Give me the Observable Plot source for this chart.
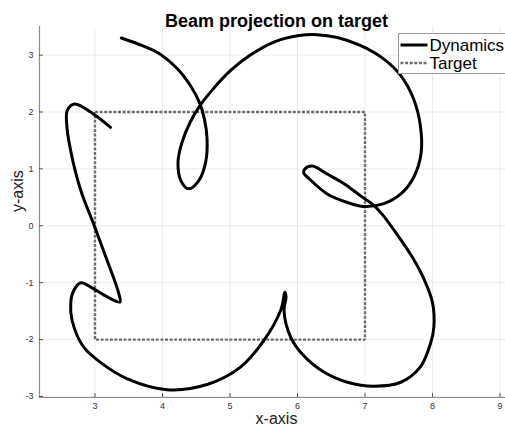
<!DOCTYPE html>
<html>
<head>
<meta charset="utf-8">
<script src="https://cdn.jsdelivr.net/npm/d3@7"></script>
<script src="https://cdn.jsdelivr.net/npm/@observablehq/plot@0.6"></script>
<style>
  html, body { margin: 0; padding: 0; background: #fff; }
</style>
</head>
<body>
<div id="chart"></div>
<script>
// Beam trajectory sampled along the path (x, y in target units)
const beamX = [3.23, 2.97, 2.70, 2.59, 2.58, 2.64, 2.79, 2.98, 3.18, 3.35, 3.37, 3.23, 2.98, 2.79, 2.68, 2.64, 2.66, 2.83, 3.08, 3.48,
  4.07, 4.66, 5.16, 5.50, 5.75, 5.79, 5.81, 5.83, 5.80, 5.90, 6.09, 6.39, 6.74, 7.13, 7.53, 7.82, 7.97, 8.02, 8.00, 7.89,
  7.70, 7.45, 7.25, 7.13, 6.93, 6.69, 6.44, 6.22, 6.11, 6.09, 6.17, 6.44, 6.74, 6.98, 7.28, 7.53, 7.72, 7.83, 7.82, 7.72,
  7.53, 7.28, 6.93, 6.59, 6.29, 6.00, 5.65, 5.30, 5.01, 4.71, 4.56, 4.41, 4.29, 4.23, 4.27, 4.39, 4.54, 4.64, 4.66, 4.62,
  4.55, 4.41, 4.22, 3.92, 3.63, 3.39];
const beamY = [1.73, 1.97, 2.14, 2.03, 1.80, 1.32, 0.62, 0.03, -0.61, -1.18, -1.34, -1.28, -1.11, -1.00, -1.15, -1.37, -1.66, -2.13, -2.40, -2.69,
  -2.88, -2.79, -2.48, -2.02, -1.49, -1.30, -1.17, -1.25, -1.49, -1.96, -2.28, -2.57, -2.75, -2.82, -2.75, -2.48, -2.07, -1.78, -1.35, -0.98,
  -0.55, -0.11, 0.21, 0.36, 0.53, 0.74, 0.91, 1.05, 1.00, 0.93, 0.83, 0.56, 0.41, 0.34, 0.39, 0.56, 0.85, 1.27, 1.76, 2.23,
  2.64, 2.93, 3.17, 3.31, 3.36, 3.34, 3.23, 3.00, 2.73, 2.35, 2.12, 1.82, 1.47, 1.12, 0.80, 0.65, 0.80, 1.12, 1.53, 1.88,
  2.16, 2.47, 2.76, 3.05, 3.20, 3.30];

// Target outline (square)
const targetX = [3, 7, 7, 3, 3];
const targetY = [2, 2, -2, -2, 2];

const xTicks = [3, 4, 5, 6, 7, 8, 9];
const yTicks = [-3, -2, -1, 0, 1, 2, 3];

const seriesNames = ["Dynamics", "Target"];
const titleText = "Beam projection on target";
const xLabel = "x-axis";
const yLabel = "y-axis";

const beam = beamX.map((x, i) => ({x, y: beamY[i]}));
const target = targetX.map((x, i) => ({x, y: targetY[i]}));

const W = 505, H = 431;
const mLeft = 39, mRight = 0, mTop = 26, mBottom = 34;
const xDomain = [2.178, 9.081];
const yDomain = [-3.018, 3.503];

const font = "'Liberation Sans', Arial, Helvetica, sans-serif";
const tickLen = 4;
const xPerPx = (xDomain[1] - xDomain[0]) / (W - mLeft - mRight);
const yPerPx = (yDomain[1] - yDomain[0]) / (H - mTop - mBottom);
const fmt = d => String(d);

const chart = Plot.plot({
  width: W,
  height: H,
  marginLeft: mLeft,
  marginRight: mRight,
  marginTop: mTop,
  marginBottom: mBottom,
  style: {background: "#fff", fontFamily: font, overflow: "visible"},
  x: {domain: xDomain, label: null},
  y: {domain: yDomain, label: null},
  marks: [
    Plot.gridX(xTicks, {stroke: "#000", strokeOpacity: 0.08, strokeWidth: 1}),
    Plot.gridY(yTicks, {stroke: "#000", strokeOpacity: 0.08, strokeWidth: 1}),
    // axis lines (left and bottom)
    Plot.ruleX([xDomain[0]], {stroke: "#8a8a8a", strokeWidth: 1.2}),
    Plot.ruleY([yDomain[0]], {stroke: "#8a8a8a", strokeWidth: 1.2}),
    // inward tick marks
    Plot.ruleX(xTicks, {x: d => d, y1: yDomain[0], y2: yDomain[0] + tickLen * yPerPx, stroke: "#555"}),
    Plot.ruleY(yTicks, {y: d => d, x1: xDomain[0], x2: xDomain[0] + tickLen * xPerPx, stroke: "#555"}),
    Plot.axisX(xTicks, {tickSize: 0, tickPadding: 5, fontSize: 9, fill: "#333", label: null, tickFormat: fmt}),
    Plot.axisY(yTicks, {tickSize: 0, tickPadding: 6, fontSize: 9, fill: "#333", label: null, tickFormat: fmt}),
    Plot.line(target, {x: "x", y: "y", stroke: "#6e6e6e", strokeWidth: 2.4, strokeDasharray: "3,1.6", strokeLinecap: "butt", strokeLinejoin: "miter"}),
    Plot.line(beam, {x: "x", y: "y", curve: "catmull-rom", stroke: "#000", strokeWidth: 3, strokeLinejoin: "round"}),
    Plot.text([titleText], {frameAnchor: "top", dy: -12, dx: 4, fontSize: 18, fontWeight: "bold", fill: "#000"}),
    Plot.text([xLabel], {frameAnchor: "bottom", dy: 26, dx: 4, fontSize: 16, fill: "#222"}),
    Plot.text([yLabel], {frameAnchor: "left", dx: -22, rotate: -90, fontSize: 16, fill: "#222"})
  ]
});

// Legend box in the upper-right corner
const svg = d3.select(chart);
const lg = svg.append("g").attr("transform", "translate(398.5,33.5)")
  .attr("text-anchor", "start");
lg.append("rect").attr("width", 110).attr("height", 40)
  .attr("fill", "#fff").attr("stroke", "#9a9a9a").attr("stroke-width", 1);
const rows = [
  {name: seriesNames[0], stroke: "#000", width: 3, dash: null},
  {name: seriesNames[1], stroke: "#6e6e6e", width: 2.4, dash: "3,1.6"}
];
rows.forEach((r, i) => {
  const cy = 11.5 + i * 18;
  lg.append("line").attr("x1", 2).attr("x2", 29).attr("y1", cy).attr("y2", cy)
    .attr("stroke", r.stroke).attr("stroke-width", r.width)
    .attr("stroke-linecap", "butt")
    .attr("stroke-dasharray", r.dash);
  lg.append("text").attr("x", 31).attr("y", cy).attr("dy", "0.35em")
    .attr("text-anchor", "start")
    .attr("font-family", font).attr("font-size", 17).attr("fill", "#000")
    .text(r.name);
});

document.getElementById("chart").appendChild(chart);
</script>
</body>
</html>
